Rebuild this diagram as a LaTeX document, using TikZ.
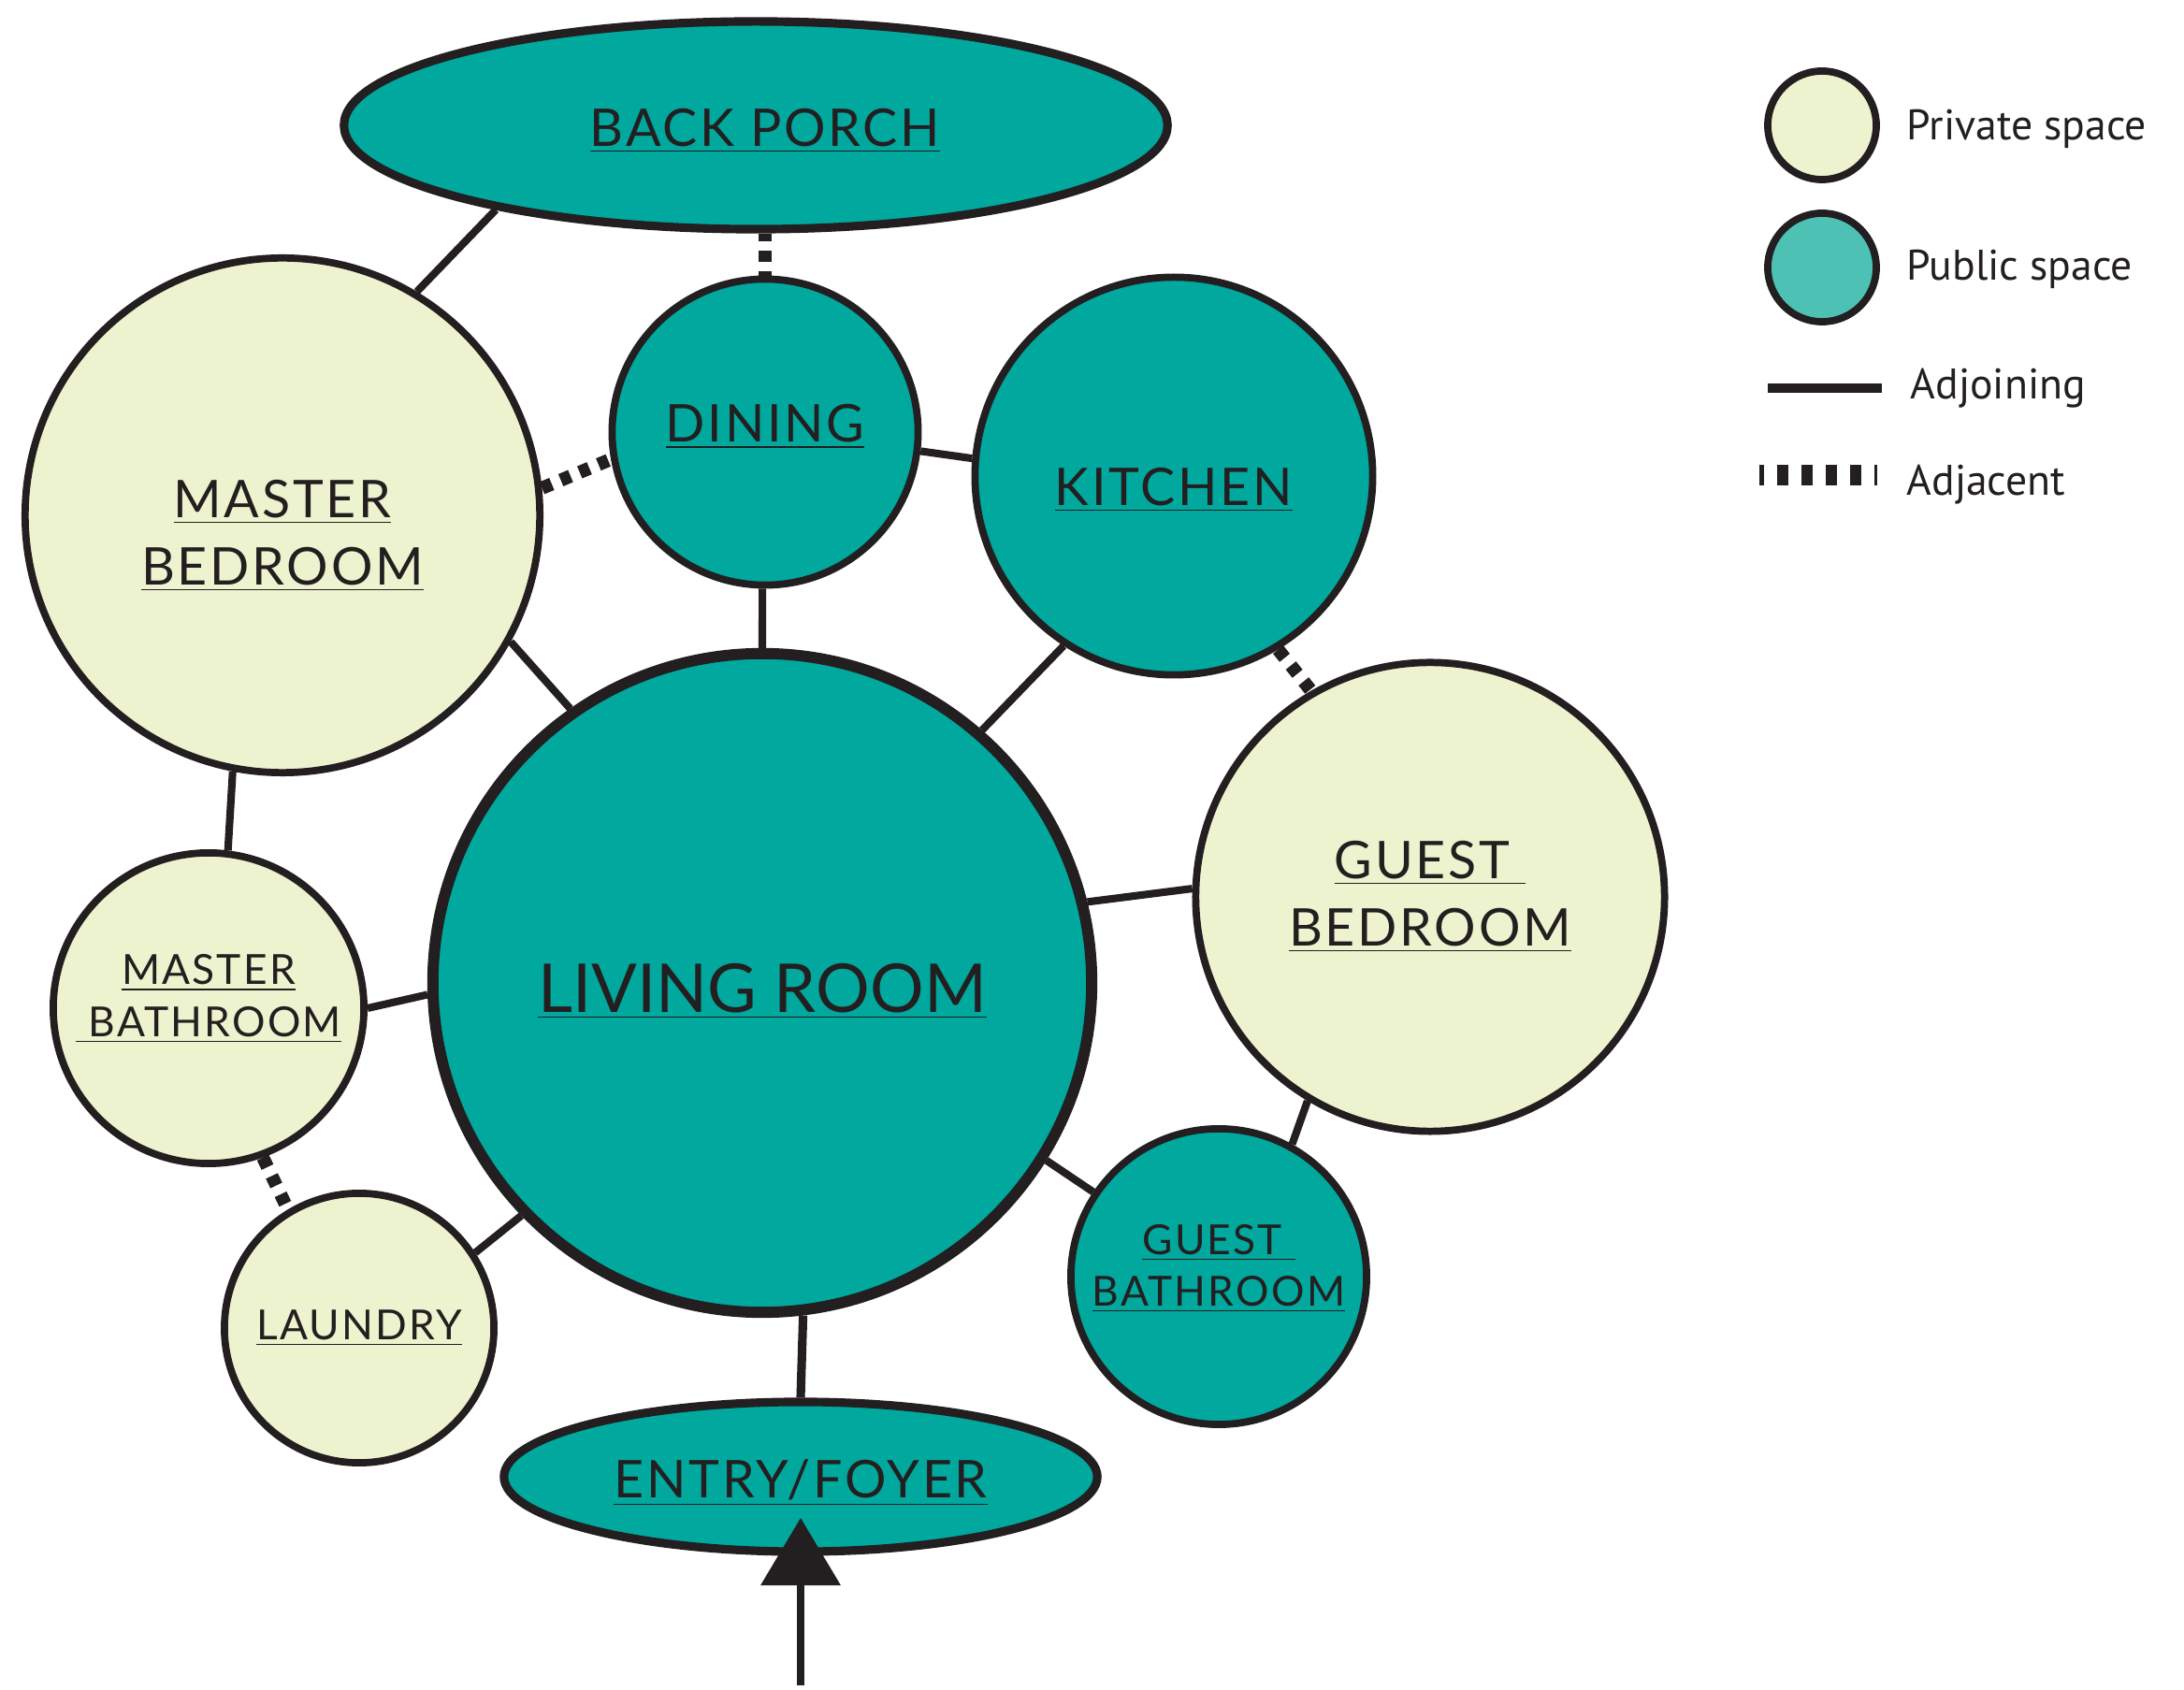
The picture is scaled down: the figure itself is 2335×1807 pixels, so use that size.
\documentclass[tikz,border=0pt]{standalone}
\usepackage{fontspec}
\newfontfamily\roomfont[LetterSpace=5]{Lato}
\newfontfamily\bigroomfont{Lato}
\newfontfamily\keyfont{PT Sans}
\usetikzlibrary{arrows.meta,calc,backgrounds,shapes.geometric}

\definecolor{ink}{HTML}{231F20}
\definecolor{publicfill}{HTML}{00A89E}
\definecolor{privatefill}{HTML}{EDF3CE}
\definecolor{keypublic}{HTML}{4DC1B4}

% struts to nudge a label up or down inside its room
\newcommand{\tallstrut}[1]{\rule{0pt}{#1}}
\newcommand{\deepstrut}[1]{\rule[-#1]{0pt}{#1}}

\begin{document}
\begin{tikzpicture}[
  x=0.01cm, y=-0.01cm,
  room/.style={
      circle,
      draw=ink,
      line width=2.2pt,
      inner sep=0pt,
      align=center,
      text=ink,
      font={\roomfont\fontsize{15.8}{20.5}\selectfont}
    },
  private room/.style={room, fill=privatefill},
  public room/.style={room, fill=publicfill},
  open room/.style={
      room,
      ellipse,
      fill=publicfill,
      line width=2.6pt
    },
  small label/.style={font={\roomfont\fontsize{12.6}{15.7}\selectfont}},
  adjoining line/.style={
      draw=ink,
      line width=2.3pt
    },
  adjacent line/.style={
      draw=ink,
      line width=4pt,
      dash pattern=on 3.2pt off 3pt
    },
  key label/.style={
      anchor=base west,
      inner sep=0pt,
      text=ink,
      font={\keyfont\fontsize{13}{15}\selectfont}
    }]
  \useasboundingbox (0,0) rectangle (2335,1807);

  % rooms
  \node [open room, minimum width=8.80cm, minimum height=2.22cm] (porch) at (808,134) {\hspace*{5.7pt}\tallstrut{14.7pt}\underline{BACK PORCH}};
  \node [private room, minimum size=5.50cm] (mbed) at (302,551) {\tallstrut{23.9pt}\underline{MASTER}\\\underline{BEDROOM}};
  \node [public room, minimum size=3.27cm] (dining) at (818,462) {\deepstrut{5.4pt}\underline{DINING}};
  \node [public room, minimum size=4.25cm] (kitchen) at (1255,509) {\tallstrut{19.9pt}\underline{KITCHEN}};
  \node [public room, minimum size=7.04cm, line width=3.4pt,
         font={\bigroomfont\fontsize{20.5}{24}\selectfont}] (living) at (815,1051) {\tallstrut{19.8pt}\underline{LIVING ROOM}};
  \node [private room, minimum size=5.01cm] (gbed) at (1529,959) {\underline{GUEST\ }\\\underline{BEDROOM}};
  \node [private room, small label, minimum size=3.32cm] (mbath) at (223,1078) {\underline{MASTER}\\\underline{\ BATHROOM}\deepstrut{7.7pt}};
  \node [private room, small label, minimum size=2.88cm] (laundry) at (384,1420) {\underline{LAUNDRY}};
  \node [public room, small label, minimum size=3.16cm] (gbath) at (1303,1365) {\underline{GUEST\ }\\\underline{BATHROOM}\deepstrut{7pt}};
  \node [open room, minimum width=6.34cm, minimum height=1.60cm] (entry) at (856,1579) {\tallstrut{15.3pt}\underline{ENTRY/FOYER}};

  \begin{scope}[on background layer]
    \draw [adjoining line] (mbed.59) -- (porch.198);
    \draw [adjacent line, dash phase=0.9pt] (dining.north |- porch.south) -- (dining.north);
    \draw [adjacent line] (mbed.6.7) -- (dining.190.2);
    \draw [adjoining line] (dining.-7.6) -- (kitchen.175.3);
    \draw [adjoining line] (dining.-91) -- (living.90);
    \draw [adjoining line] (mbed.-29.9) -- (living.125);
    \draw [adjoining line] (kitchen.237.4) -- (living.49.9);
    \draw [adjacent line] (kitchen.-59.3) -- (gbed.120.8);
    \draw [adjoining line] (living.14.9) -- (gbed.178);
    \draw [adjoining line] (mbed.259.5) -- (mbath.83.4);
    \draw [adjoining line] (mbath.-0.5) -- (living.182.4);
    \draw [adjacent line] (mbath.-70.7) -- (laundry.121);
    \draw [adjoining line] (laundry.33.9) -- (living.224.7);
    \draw [adjoining line] (living.-32.6) -- (gbath.146.6);
    \draw [adjoining line] (gbed.239.7) -- (gbath.61.7);
    \draw [adjoining line, line width=2.6pt] (living.-83.2) -- (entry.north);
  \end{scope}

  % way in
  \coordinate (door) at (856,1802);
  \draw [draw=ink, fill=ink, line width=2pt, -{Triangle[length=0.72cm, width=0.84cm]}] (door) -- ($(entry.center) + (0,44)$);

  % key
  \node [private room, minimum size=1.16cm] (privkey) at (1948,134) {};
  \node [public room, fill=keypublic, minimum size=1.16cm] (pubkey) at ($(privkey) + (0,152)$) {};
  \node [key label] (privtext) at (2038,150) {Private space};
  \node [key label] (pubtext) at (2038,300) {Public space};
  \coordinate (joinA) at (1890,415);
  \coordinate (joinB) at (2012,415);
  \draw [adjoining line, line width=2.85pt] (joinA) -- (joinB);
  \node [key label] (jointext) at (2042,427) {Adjoining};
  \coordinate (nearA) at (1881,508);
  \coordinate (nearB) at (2007,508);
  \draw [adjacent line, line width=6pt, dash pattern=on 3.41pt off 3.98pt, dash phase=2pt] (nearA) -- (nearB);
  \node [key label] (neartext) at (2038,530) {Adjacent};
\end{tikzpicture}
\end{document}
